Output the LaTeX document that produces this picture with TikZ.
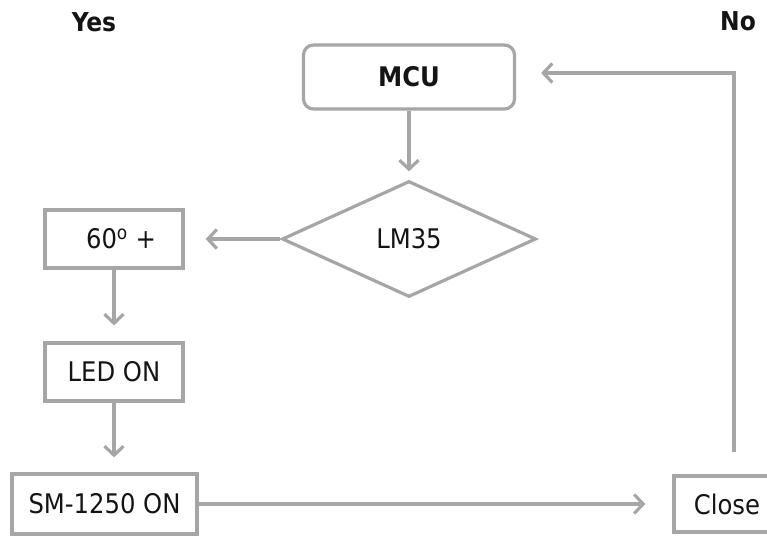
\documentclass[tikz,border=0pt]{standalone}
\usepackage{fontspec}
\setmainfont{DejaVu Sans Condensed}
\usetikzlibrary{shapes.geometric}
\usetikzlibrary{positioning, arrows.meta}

\definecolor{linegray}{HTML}{A6A6A6}
\definecolor{textdark}{HTML}{141414}

\tikzset{
    stepbox/.style={draw=linegray, line width=3.2pt, text=textdark, inner sep=0pt,
        font=\fontsize{27}{32}\selectfont},
    flow/.style={draw=linegray, line width=3.2pt,
        -{Straight Barb[length=9pt, width=19pt, line width=3.2pt]}},
    answer/.style={text=textdark, font=\fontsize{26}{30}\selectfont\bfseries},
}

\begin{document}
\begin{tikzpicture}[x=1pt, y=-1pt]
    \clip (0,0) rectangle (767,535);

    \node[answer] (yes) at (94,22) {Yes};
    \node[answer] (no) at (738,21) {No};

    \node[stepbox, rounded corners=10pt, minimum width=211pt, minimum height=64pt,
        font=\fontsize{27}{32}\selectfont\bfseries] (mcu) at (409,77) {MCU};
    \node[stepbox, diamond, minimum width=254pt, minimum height=116pt] (lm35) at (409,239) {LM35};
    \node[stepbox, minimum width=138pt, minimum height=58pt] (hot) at (114,239) {\hspace{14pt}60\textsuperscript{o} +};
    \node[stepbox, minimum width=138pt, minimum height=58pt] (led) at (114,372) {LED ON};
    \node[stepbox, minimum width=185pt, minimum height=60pt] (sm) at (104.5,504) {SM-1250 ON};
    \node[stepbox, minimum width=116pt, minimum height=56pt] (close) at (732,504) {\hspace{-10pt}Close};

    \coordinate (back) at (734,452);

    \draw[flow, shorten >=8pt] (mcu) -- (lm35);
    \draw[flow, shorten >=21pt] (lm35) -- (hot);
    \draw[flow, shorten >=16pt] (hot) -- (led);
    \draw[flow, shorten >=15pt] (led.south) -- (led.south |- sm.north);
    \draw[flow, shorten >=27pt] (sm) -- (close);
    \draw[flow, shorten >=25pt] (back) |- ([yshift=4pt]mcu.east);
\end{tikzpicture}
\end{document}
